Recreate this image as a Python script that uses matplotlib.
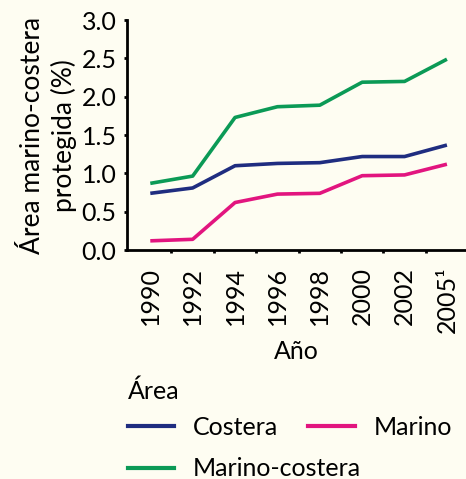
import matplotlib.pyplot as plt
from matplotlib.lines import Line2D

plt.rcParams['font.family'] = ['Lato', 'DejaVu Sans']

# Data
years = ['1990', '1992', '1994', '1996', '1998', '2000', '2002', '2005¹']
costera = [0.74, 0.81, 1.10, 1.13, 1.14, 1.22, 1.22, 1.37]
marino = [0.12, 0.14, 0.62, 0.73, 0.74, 0.97, 0.98, 1.12]
marino_costera = [0.87, 0.965, 1.73, 1.87, 1.89, 2.19, 2.20, 2.49]

bg = '#fefdf2'
c_blue = '#1f2d80'
c_pink = '#e2157f'
c_green = '#0b9a56'

fs = 18

fig = plt.figure(figsize=(4.66, 4.79), dpi=100, facecolor=bg)
ax = fig.add_axes([0.2725, 0.478, 0.7275, 0.48])
ax.set_facecolor(bg)

x = list(range(len(years)))
ax.plot(x, costera, color=c_blue, lw=2.6, solid_capstyle='butt')
ax.plot(x, marino, color=c_pink, lw=2.6, solid_capstyle='butt')
ax.plot(x, marino_costera, color=c_green, lw=2.6, solid_capstyle='butt')

ax.set_xlim(-0.55, 7.45)
ax.set_ylim(0, 3.0)
ax.set_yticks([0, 0.5, 1.0, 1.5, 2.0, 2.5, 3.0])
ax.set_yticklabels(['0.0', '0.5', '1.0', '1.5', '2.0', '2.5', '3.0'])
ax.set_xticks(x)
ax.set_xticklabels(years, rotation=90)
ax.set_xticks([i + 0.5 for i in range(7)], minor=True)

for s in ['top', 'right']:
    ax.spines[s].set_visible(False)
for s in ['left', 'bottom']:
    ax.spines[s].set_linewidth(2)

ax.tick_params(axis='x', which='major', length=0, pad=12, labelsize=fs)
ax.tick_params(axis='x', which='minor', length=2.5, width=2, direction='out')
ax.tick_params(axis='y', length=2.5, width=2, pad=5, labelsize=fs)

ax.set_xlabel('Año', fontsize=fs, labelpad=5)
ax.set_ylabel('Área marino-costera\nprotegida (%)', fontsize=19, labelpad=3, linespacing=1.3)

# legend, laid out as two rows
h_c = Line2D([], [], color=c_blue, lw=3)
h_m = Line2D([], [], color=c_pink, lw=3)
h_mc = Line2D([], [], color=c_green, lw=3)

leg1 = fig.legend([h_c, h_m], ['Costera', 'Marino'], ncol=2, frameon=False,
                  loc='upper left', bbox_to_anchor=(0.275, 0.207),
                  fontsize=fs, title='Área', title_fontsize=fs,
                  alignment='left', handlelength=1.85, handletextpad=0.75,
                  columnspacing=1.2, borderaxespad=0, borderpad=0)
leg2 = fig.legend([h_mc], ['Marino-costera'], frameon=False,
                  loc='upper left', bbox_to_anchor=(0.275, 0.045),
                  fontsize=fs, handlelength=1.85, handletextpad=0.75,
                  borderaxespad=0, borderpad=0)

fig.savefig('out.png', dpi=100, facecolor=bg)
